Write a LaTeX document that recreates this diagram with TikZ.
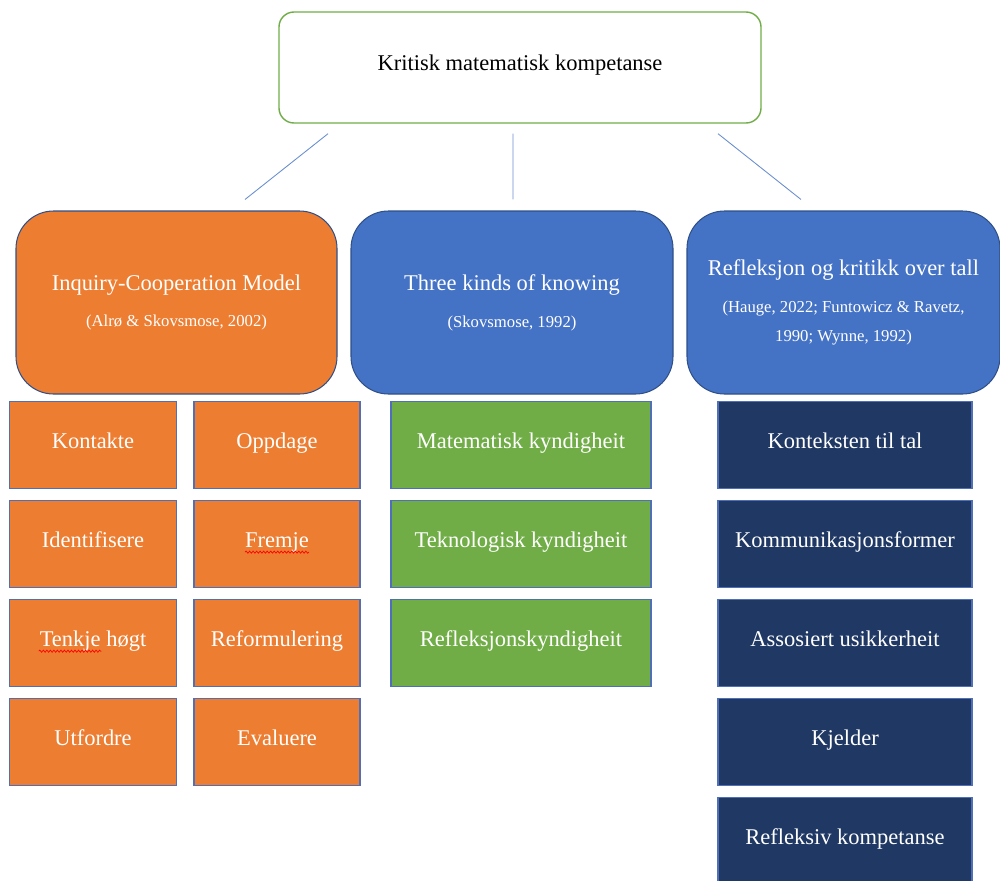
\documentclass[tikz,border=0pt]{standalone}
\usepackage{fontspec}
\setmainfont{Liberation Serif}
\usepackage{tikz}
\usetikzlibrary{positioning,decorations.pathmorphing}

\definecolor{kmkgreen}{HTML}{70AD47}
\definecolor{kmkorange}{HTML}{ED7D31}
\definecolor{kmkblue}{HTML}{4472C4}
\definecolor{kmknavy}{HTML}{203864}
\definecolor{kmkedge}{HTML}{4F6FB8}

\newcommand{\citefont}{\fontsize{9.5}{12}\selectfont}

\tikzset{
  mainbox/.style={draw=kmkgreen,line width=0.8pt,fill=white,rounded corners=0.3cm,
    minimum width=9.64cm,minimum height=2.22cm,inner sep=0pt,
    text height=0.7em,text depth=0.4em},
  headbox/.style={draw=kmkblue!70!black,line width=0.6pt,rounded corners=0.75cm,
    minimum height=3.66cm,inner sep=0pt,text=white,align=center},
  itembox/.style={draw=kmkedge,line width=0.6pt,minimum height=1.74cm,
    inner sep=0pt,text=white,text height=0.7em,text depth=0.35em},
  link/.style={draw=kmkblue!80,line width=0.5pt},
  squiggle/.style={draw=red,line width=0.4pt,
    decorate,decoration={snake,segment length=2pt,amplitude=0.6pt}}
}

\begin{document}
\begin{tikzpicture}[node distance=0.22cm,font=\fontsize{12.8}{15}\selectfont]

\useasboundingbox (0,0) rectangle (20,-17.6);

\node(kmk)[mainbox] at (10.4,-1.35){Kritisk matematisk kompetanse};

\node(icm)[headbox,fill=kmkorange,minimum width=6.42cm] at (3.53,-6.05)
  {Inquiry-Cooperation Model\\[6pt]\citefont (Alrø \& Skovsmose, 2002)};

\node(tkk)[headbox,fill=kmkblue,minimum width=6.44cm] at (10.24,-6.05)
  {Three kinds of knowing\\[6pt]\citefont (Skovsmose, 1992)};

\node(rkt)[headbox,fill=kmkblue,minimum width=6.26cm] at (16.87,-6.05)
  {Refleksjon og kritikk over tall\\[6pt]\citefont (Hauge, 2022; Funtowicz \& Ravetz,\\[1.8pt]\citefont 1990; Wynne, 1992)};

% Inquiry-Cooperation Model
\node(kontakte)[itembox,fill=kmkorange,minimum width=3.34cm] at (1.86,-8.9){Kontakte};
\node(identifisere)[itembox,fill=kmkorange,minimum width=3.34cm,below=of kontakte]{Identifisere};
\node(tenkje)[itembox,fill=kmkorange,minimum width=3.34cm,below=of identifisere]{Tenkje høgt};
\node(utfordre)[itembox,fill=kmkorange,minimum width=3.34cm,below=of tenkje]{Utfordre};

\node(oppdage)[itembox,fill=kmkorange,minimum width=3.32cm] at (5.54,-8.9){Oppdage};
\node(fremje)[itembox,fill=kmkorange,minimum width=3.32cm,below=of oppdage]{Fremje};
\node(reformulering)[itembox,fill=kmkorange,minimum width=3.32cm,below=of fremje]{Reformulering};
\node(evaluere)[itembox,fill=kmkorange,minimum width=3.32cm,below=of reformulering]{Evaluere};

% Three kinds of knowing
\node(matematisk)[itembox,fill=kmkgreen,minimum width=5.2cm] at (10.42,-8.9){Matematisk kyndigheit};
\node(teknologisk)[itembox,fill=kmkgreen,minimum width=5.2cm,below=of matematisk]{Teknologisk kyndigheit};
\node(refleksjons)[itembox,fill=kmkgreen,minimum width=5.2cm,below=of teknologisk]{Refleksjonskyndigheit};

% Refleksjon og kritikk over tall
\node(konteksten)[itembox,fill=kmknavy,minimum width=5.08cm] at (16.9,-8.9){Konteksten til tal};
\node(kommunikasjon)[itembox,fill=kmknavy,minimum width=5.08cm,below=of konteksten]{Kommunikasjonsformer};
\node(usikkerheit)[itembox,fill=kmknavy,minimum width=5.08cm,below=of kommunikasjon]{Assosiert usikkerheit};
\node(kjelder)[itembox,fill=kmknavy,minimum width=5.08cm,below=of usikkerheit]{Kjelder};
\node(refleksiv)[itembox,fill=kmknavy,minimum width=5.08cm,below=of kjelder]{Refleksiv kompetanse};

% spell-check marks
\draw [squiggle] ([shift={(-1.085,-0.1)}]tenkje.base) -- ++(1.25,0);
\draw [squiggle] ([shift={(-0.64,-0.1)}]fremje.base) -- ++(1.28,0);

\draw [link] ([shift={(-3.84,-0.2)}]kmk.south) -- ([shift={(1.37,0.22)}]icm.north);
\draw [link] ([shift={(-0.14,-0.2)}]kmk.south) -- ([shift={(0.02,0.22)}]tkk.north);
\draw [link] ([shift={(3.96,-0.2)}]kmk.south) -- ([shift={(-0.85,0.22)}]rkt.north);

\end{tikzpicture}
\end{document}
